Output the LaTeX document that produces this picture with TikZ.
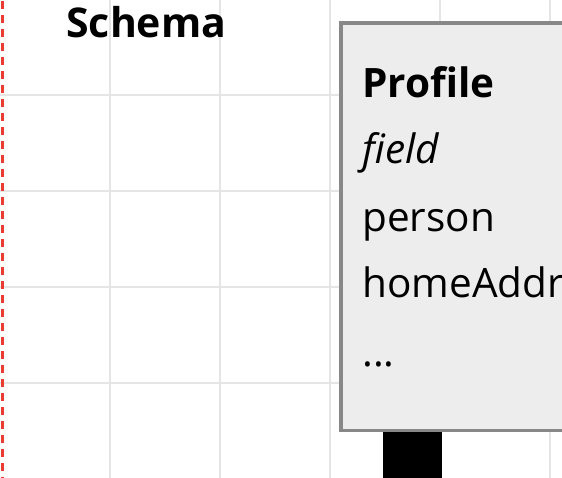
\documentclass[tikz,border=0pt]{standalone}
\usepackage{fontspec}
\setmainfont{Open Sans}
\definecolor{gridgray}{RGB}{229,229,229}
\definecolor{boxgray}{RGB}{136,136,136}
\definecolor{boxfill}{RGB}{237,237,237}
\definecolor{edgered}{RGB}{235,60,50}

\tikzset{every picture/.style={line width=0.75pt}}
\tikzset{
  gridline/.style={draw=gridgray, line width=1.5pt},
  edgeline/.style={draw=edgered, line width=3.5pt, dash pattern=on 8pt off 6pt},
  fieldtext/.style={anchor=base west, inner sep=0pt, font=\fontsize{40.5}{48}\selectfont},
}

\begin{document}
\begin{tikzpicture}[x=1pt,y=1pt,yscale=-1,xscale=1]
	\clip (0,0) rectangle (562,478);

	%Grid
	\foreach \x in {110,220,330,440,550} \draw[gridline] (\x,0) -- (\x,478);
	\foreach \y in {95,191,287,383} \draw[gridline] (0,\y) -- (562,\y);
	%Straight Lines: page edge
	\draw[edgeline] (2.5,1) -- (2.5,478);

	% Text Node
	\node[fieldtext, font=\fontsize{41}{48}\selectfont\bfseries] (schema) at (66,38) {Schema};

	%Shape: Rectangle
	\draw[draw=boxgray, fill=boxfill, line width=3.5pt] (340.8,23) rectangle (620,430.5);
	%Shape: Rectangle (stem)
	\fill (383,432.2) rectangle (442,480);

	% Text Node
	\node[fieldtext, font=\fontsize{40.5}{48}\selectfont\bfseries] (profile) at (362,97.7) {Profile};
	% Text Node
	\node[fieldtext, font=\fontsize{40.5}{48}\selectfont\itshape] (field) at (362,163.3) {field};
	% Text Node
	\node[fieldtext] (person) at (362,231.7) {person};
	% Text Node
	\node[fieldtext] (home) at (362,298) {homeAddr};
	% Text Node
	\node[fieldtext] (more) at (362,366.7) {...};

\end{tikzpicture}
\end{document}
